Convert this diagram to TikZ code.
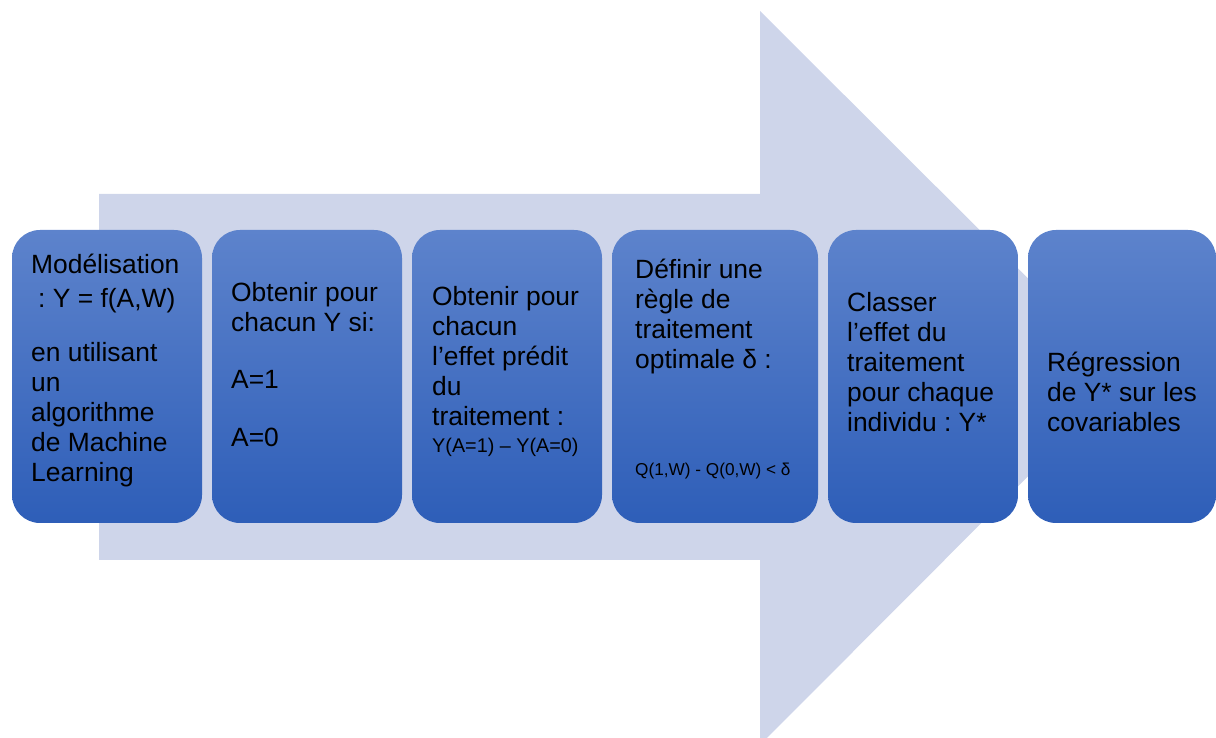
\documentclass[tikz,border=0pt]{standalone}
\usepackage{fontspec}
\setmainfont{Liberation Sans}
\usepackage{tikz}
\frenchspacing
\definecolor{arrowfill}{RGB}{206,213,234}
\definecolor{boxtop}{RGB}{93,131,204}
\definecolor{boxbot}{RGB}{46,94,184}
\tikzset{%
  sbox/.style={shape=rectangle,rounded corners=28pt,inner sep=0,minimum height=293pt,top color=boxtop,bottom color=boxbot},
  stext/.style={anchor=base west,inner sep=0,text width=200pt,align=flush left,font=\fontsize{26.4}{30}\selectfont},
  bigarrow/.style={fill=arrowfill}
}

\begin{document}
\begin{tikzpicture}[x=1pt,y=1pt]
      \useasboundingbox (0,0) rectangle (1216,738);
      \fill[bigarrow] (99,544) -- (760,544) -- (760,727) -- (1127,361) -- (760,-7) -- (760,178) -- (99,178) -- cycle;
      \path
        (107,361.5) node (b_1)[sbox,minimum width=190pt]{}
        (307,361.5) node (b_2)[sbox,minimum width=190pt]{}
        (507,361.5) node (b_3)[sbox,minimum width=190pt]{}
        (715,361.5) node (b_4)[sbox,minimum width=206pt]{}
        (923,361.5) node (b_5)[sbox,minimum width=190pt]{}
        (1122,361.5) node (b_6)[sbox,minimum width=188pt]{};
      \path
        (31,464) node (t_1)[stext]{Modélisation\\[4pt]\hspace*{7pt}: Y = f(A,W)\\[24pt]en utilisant\\un\\algorithme\\de Machine\\Learning}
        (231,436) node (t_2)[stext]{Obtenir pour\\chacun Y si:\\[27pt]A=1\\[28pt]A=0}
        (432,432) node (t_3)[stext]{Obtenir pour\\chacun\\l’effet prédit\\du\\traitement :\\[-3pt]{\fontsize{19.8}{22}\selectfont Y(A=1) – Y(A=0)}}
        (635,459) node (t_4)[stext]{Définir une\\règle de\\traitement\\optimale δ :\\[77pt]{\fontsize{17.2}{20}\selectfont Q(1,W) - Q(0,W) < δ}}
        (847,426) node (t_5)[stext]{Classer\\l’effet du\\traitement\\pour chaque\\individu : Y*}
        (1047,366) node (t_6)[stext]{Régression\\de Y* sur les\\covariables};
    \end{tikzpicture}
\end{document}
